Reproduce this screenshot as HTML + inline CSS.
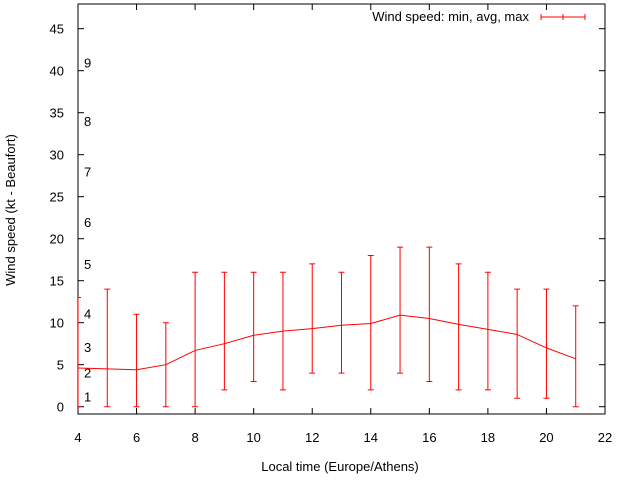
<!DOCTYPE html>
<html><head><meta charset="utf-8"><style>
body{margin:0;background:#fff}
svg{display:block;font-family:"Liberation Sans",sans-serif}
</style></head><body>
<svg id="c" width="640" height="480">
<rect x="0" y="0" width="640" height="480" fill="#fff"/>
<g id="grid"></g>
<text x="15" y="210" font-size="13" text-anchor="middle" transform="rotate(-90 15 210)">Wind speed (kt - Beaufort)</text>
<text x="340" y="471" font-size="13" text-anchor="middle">Local time (Europe/Athens)</text>
<g>
<text x="529" y="21" font-size="13" text-anchor="end">Wind speed: min, avg, max</text>
<line x1="541" y1="17" x2="585" y2="17" stroke="red" stroke-width="1"/>
<line x1="541" y1="14" x2="541" y2="20" stroke="red"/><line x1="563" y1="14" x2="563" y2="20" stroke="red"/><line x1="585" y1="14" x2="585" y2="20" stroke="red"/>
</g>
</svg>
<script>
const hours=[4,5,6,7,8,9,10,11,12,13,14,15,16,17,18,19,20,21];
const avgs=[4.6,4.5,4.4,5.0,6.7,7.5,8.5,9.0,9.3,9.7,9.9,10.9,10.5,9.8,9.2,8.6,7.0,5.7];
const mins=[0,0,0,0,0,2,3,2,4,4,2,4,3,2,2,1,1,0];
const maxs=[13,14,11,10,16,16,16,16,17,16,18,19,19,17,16,14,14,12];
const xTicks=[4,6,8,10,12,14,16,18,20,22];
const yTicks=[0,5,10,15,20,25,30,35,40,45];
const beaufort=[1,2,3,4,5,6,7,8,9];
const beaufortKt=[1.2,4.1,7.1,11.1,17,22,28,34,41];
const L=78,R=605,T=4,B=414;
const X=v=>L+(v-4)*(R-L)/18;
const Y=v=>406.7-v*8.4;
const svg=document.getElementById('c');
const ns='http://www.w3.org/2000/svg';
function mk(t,a){const e=document.createElementNS(ns,t);for(const k in a)e.setAttribute(k,a[k]);svg.appendChild(e);return e;}
const frame=mk('rect',{x:L,y:T,width:R-L,height:B-T,fill:'none',stroke:'#000','stroke-width':1});


yTicks.forEach(v=>{
  const y=Y(v);
  mk('line',{x1:L,y1:y,x2:L+6,y2:y,stroke:'#000'});
  mk('line',{x1:R,y1:y,x2:R-6,y2:y,stroke:'#000'});
  const t=mk('text',{x:L-14,y:y+5,'font-size':13,'text-anchor':'end'});
  t.textContent=v;
  
  
});
xTicks.forEach(v=>{
  const x=X(v);
  mk('line',{x1:x,y1:B,x2:x,y2:B-6,stroke:'#000'});
  mk('line',{x1:x,y1:T,x2:x,y2:T+6,stroke:'#000'});
  const t=mk('text',{x:x,y:442,'font-size':13,'text-anchor':'middle'});
  t.textContent=v;
  
  
});
beaufort.forEach((b,i)=>{
  const t=mk('text',{x:84,y:Y(beaufortKt[i])+5,'font-size':13});
  t.textContent=b;
  
  
});
const cp=document.createElementNS(ns,'clipPath');cp.setAttribute('id','clip');
const cr=document.createElementNS(ns,'rect');cr.setAttribute('x',L);cr.setAttribute('y',T);cr.setAttribute('width',R-L);cr.setAttribute('height',B-T);
cp.appendChild(cr);svg.appendChild(cp);
const g=mk('g',{'clip-path':'url(#clip)'});


function add(t,a){const e=document.createElementNS(ns,t);for(const k in a)e.setAttribute(k,a[k]);g.appendChild(e);return e;}
const line=add('polyline',{points:hours.map((h,i)=>X(h)+','+Y(avgs[i])).join(' '),fill:'none',stroke:'red','stroke-width':1});


hours.forEach((h,i)=>{
  const x=X(h);
  const e=add('path',{d:`M${x},${Y(mins[i])}V${Y(maxs[i])}M${x-3},${Y(mins[i])}h6M${x-3},${Y(maxs[i])}h6`,stroke:'red',fill:'none','stroke-width':1});
  
  
});
</script>
</body></html>
